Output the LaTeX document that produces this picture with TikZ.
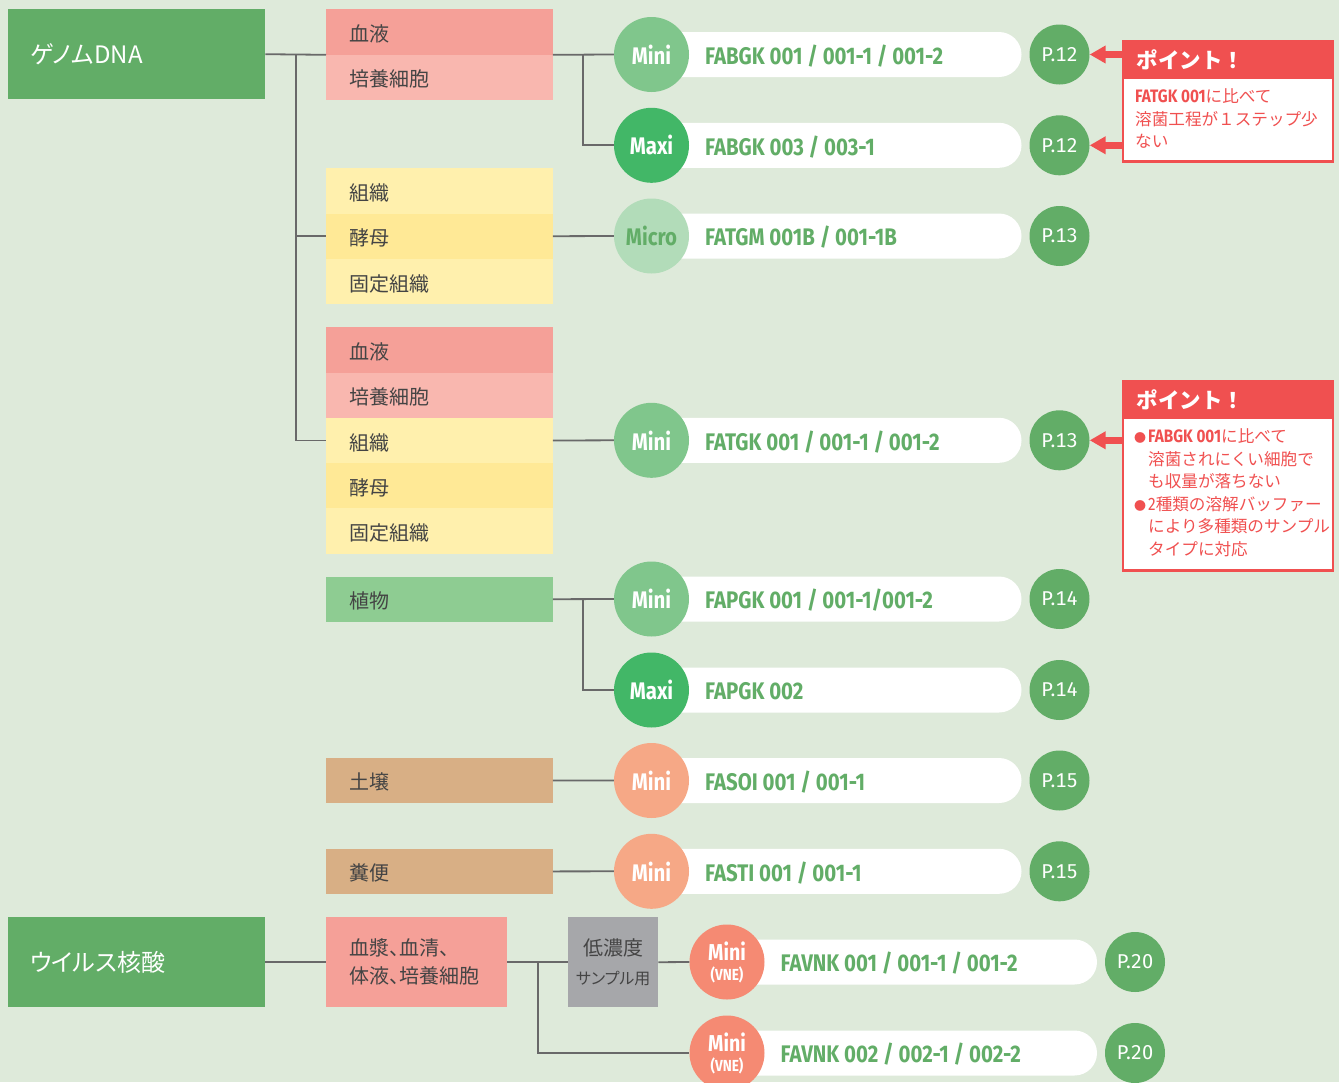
\documentclass[tikz,border=0pt]{standalone}
\usepackage{fontspec}
\newfontfamily\jp{Noto Sans CJK JP}
\newfontfamily\jpp[RawFeature=+palt]{Noto Sans CJK JP}
\newfontfamily\cn[FakeStretch=0.85]{Fira Sans}
\newfontfamily\fs[Numbers=Monospaced]{Fira Sans}
\usetikzlibrary{arrows.meta}
\definecolor{bg}{RGB}{222,234,218}
\definecolor{gA}{RGB}{98,173,103}
\definecolor{gB}{RGB}{142,204,146}
\definecolor{rA}{RGB}{245,160,152}
\definecolor{rB}{RGB}{249,183,175}
\definecolor{yA}{RGB}{255,240,173}
\definecolor{yB}{RGB}{255,233,150}
\definecolor{brn}{RGB}{216,175,133}
\definecolor{gry}{RGB}{166,167,170}
\definecolor{cMini}{RGB}{128,198,140}
\definecolor{cMaxi}{RGB}{66,183,103}
\definecolor{cMicro}{RGB}{178,220,185}
\definecolor{cOr}{RGB}{246,168,134}
\definecolor{cVne}{RGB}{245,138,115}
\definecolor{ptred}{RGB}{240,80,80}
\definecolor{txt}{RGB}{68,68,68}
\definecolor{ln}{RGB}{105,105,105}
\newcommand\prow[7]{%
  \node[pill] (p#1) at (#2+185,#3) {};
  \node[circ,#4] (c#1) at (#2,#3) {#5};
  \node[prod] (t#1) at (#2+53.5,#3+1.5) {#6};
  \node[pc] (g#1) at (#2+408,#3) {#7};
}
\begin{document}
\begin{tikzpicture}[x=1pt,y=-1pt,
  cat/.style={anchor=north west, minimum width=257pt, minimum height=90pt, text width=213pt, inner xsep=22pt, inner ysep=0pt, align=left, fill=gA, text=white, font=\jpp\fontsize{24}{28}\selectfont},
  sampbase/.style={anchor=north west, minimum width=226.5pt, minimum height=45.4pt, text width=180.5pt, inner xsep=23pt, inner ysep=0pt, align=left, text=txt, font=\jp\fontsize{20}{24}\selectfont},
  samp/.style={sampbase, text height=19pt, text depth=0pt},
  pill/.style={fill=white, rounded corners=22.5pt, minimum width=370pt, minimum height=45pt, inner sep=0pt},
  circ/.style={circle, minimum size=75pt, inner sep=0pt, text=white, align=center, font=\cn\bfseries\fontsize{24}{26}\selectfont},
  pc/.style={circle, minimum size=60pt, inner sep=0pt, fill=gA, text=white, font=\fs\fontsize{20}{20}\selectfont},
  prod/.style={anchor=west, inner sep=0pt, text=gA, font=\cn\bfseries\fontsize{24}{26}\selectfont},
  tree/.style={draw=ln, line width=1.8pt},
  ptbody/.style={anchor=north west, draw=ptred, fill=white, line width=2.5pt, minimum width=210pt, inner sep=0pt},
  pthead/.style={anchor=north west, fill=ptred, minimum width=210pt, minimum height=39pt, text width=180pt, inner xsep=15pt, inner ysep=0pt, align=left, text=white, font=\jp\bfseries\fontsize{21.5}{24}\selectfont},
  pttext/.style={anchor=north west, inner sep=0pt, align=left, text=ptred, font=\jp\fontsize{16.6}{22.5}\selectfont},
  ptarrow/.style={draw=ptred, line width=7pt, -{Triangle[length=16pt,width=17pt]}}
]
\useasboundingbox (0,0) rectangle (1339,1082);
\clip (0,0) rectangle (1339,1082);
\fill[bg] (0,0) rectangle (1339,1082);

% categories
\node[cat] (gen) at (8,9) {ゲノムDNA};
\node[cat] (vir) at (8,917) {ウイルス核酸};

% samples
\node[samp, fill=rA] (s1) at (326,9) {血液};
\node[samp, fill=rB] (s2) at (326,54.5) {培養細胞};
\node[samp, fill=yA] (s3) at (326,168) {組織};
\node[samp, fill=yB] (s4) at (326,213.3) {酵母};
\node[samp, fill=yA] (s5) at (326,258.6) {固定組織};
\node[samp, fill=rA] (s6) at (326,327) {血液};
\node[samp, fill=rB] (s7) at (326,372.3) {培養細胞};
\node[samp, fill=yA] (s8) at (326,417.6) {組織};
\node[samp, fill=yB] (s9) at (326,462.9) {酵母};
\node[samp, fill=yA] (s10) at (326,508.2) {固定組織};
\node[samp, fill=gB] (s11) at (326,576.3) {植物};
\node[samp, fill=brn] (s12) at (326,757.5) {土壌};
\node[samp, fill=brn] (s13) at (326,848.5) {糞便};
\node[sampbase, fill=rA, minimum width=181pt, text width=135pt, minimum height=90pt, font=\jpp\fontsize{20}{28}\selectfont] (s14) at (326,917) {\rule{0pt}{16pt}血漿、血清、\\体液、培養細胞};
\node[anchor=north west, fill=gry, minimum width=90pt, minimum height=90pt, inner sep=0pt, align=center, text=txt, font=\jp\fontsize{20}{29}\selectfont] (lc) at (568,917) {\rule{0pt}{15pt}低濃度\\{\jpp\fontsize{16}{16}\selectfont サンプル用}};

% product rows
\prow{1}{651.5}{54.5}{fill=cMini}{Mini}{FABGK 001 / 001-1 / 001-2}{P.12}
\prow{2}{651.5}{145.3}{fill=cMaxi}{Maxi}{FABGK 003 / 003-1}{P.12}
\prow{3}{651.5}{236}{fill=cMicro,text=gA}{Micro}{FATGM 001B / 001-1B}{P.13}
\prow{4}{651.5}{440.3}{fill=cMini}{Mini}{FATGK 001 / 001-1 / 001-2}{P.13}
\prow{5}{651.5}{599}{fill=cMini}{Mini}{FAPGK 001 / 001-1/001-2}{P.14}
\prow{6}{651.5}{690}{fill=cMaxi}{Maxi}{FAPGK 002}{P.14}
\prow{7}{651.5}{780.5}{fill=cOr}{Mini}{FASOI 001 / 001-1}{P.15}
\prow{8}{651.5}{871.3}{fill=cOr}{Mini}{FASTI 001 / 001-1}{P.15}
\prow{9}{727}{962}{fill=cVne}{{\fontsize{23}{23}\selectfont Mini}\\[-6pt]{\fontsize{16}{16}\selectfont (VNE)}}{FAVNK 001 / 001-1 / 001-2}{P.20}
\prow{10}{727}{1053}{fill=cVne}{{\fontsize{23}{23}\selectfont Mini}\\[-6pt]{\fontsize{16}{16}\selectfont (VNE)}}{FAVNK 002 / 002-1 / 002-2}{P.20}

% tree connectors
\coordinate (t0) at (296,54.5);
\coordinate (t1) at (583,54.5);
\coordinate (t2) at (583,599);
\coordinate (t3) at (538,962);
\draw[tree] (gen.east) -- (s1.south west);
\draw[tree] (t0) |- (s4.west);
\draw[tree] (t0) |- (s8.west);
\draw[tree] (s1.south east) -- (c1.west);
\draw[tree] (t1) |- (c2.west);
\draw[tree] (s4.east) -- (c3.west);
\draw[tree] (s8.east) -- (c4.west);
\draw[tree] (s11.east) -- (c5.west);
\draw[tree] (t2) |- (c6.west);
\draw[tree] (s12.east) -- (c7.west);
\draw[tree] (s13.east) -- (c8.west);
\draw[tree] (vir.east) -- (s14.west);
\draw[tree] (s14.east) -- (lc.west);
\draw[tree] (lc.east) -- (c9.west);
\draw[tree] (t3) |- (c10.west);

% point boxes
\node[ptbody, minimum height=120pt] (pb1) at (1121.5,40) {};
\node[pthead] (ph1) at (1121.5,40) {ポイント！};
\node[pttext] (px1) at (1135,88.5) {{\cn\bfseries\fontsize{18}{22.5}\selectfont FATGK 001}に比べて\\溶菌工程が１ステップ少\\ない};
\node[ptbody, minimum height=189pt] (pb2) at (1121.5,380) {};
\node[pthead] (ph2) at (1121.5,380) {ポイント！};
\node[pttext] (px2) at (1134,428.5) {\makebox[14pt][l]{\fontsize{12}{12}\selectfont ●}{\cn\bfseries\fontsize{18}{22.5}\selectfont FABGK 001}に比べて\\\makebox[14pt]{}溶菌されにくい細胞で\\\makebox[14pt]{}も収量が落ちない\\\makebox[14pt][l]{\fontsize{12}{12}\selectfont ●}{\cn\fontsize{18}{22.5}\selectfont 2}種類の溶解バッファー\\\makebox[14pt]{}により多種類のサンプル\\\makebox[14pt]{}タイプに対応};
\draw[ptarrow] (pb1.west |- g1) -- (g1.east);
\draw[ptarrow] (pb1.west |- g2) -- (g2.east);
\draw[ptarrow] (pb2.west |- g4) -- (g4.east);
\end{tikzpicture}
\end{document}
